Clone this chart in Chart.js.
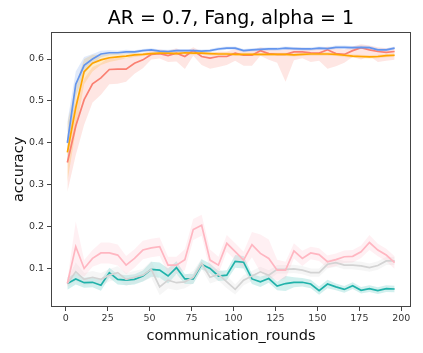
<!DOCTYPE html>
<html lang="en">
<head>
  <meta charset="UTF-8" />
  <title>AR = 0.7, Fang, alpha = 1</title>
  <script src="https://cdn.jsdelivr.net/npm/chart.js"></script>
  <style>
    html, body { margin: 0; padding: 0; background: #fff; }
  </style>
</head>
<body>
  <canvas id="accChart" width="423" height="353"></canvas>

  <script>
    const rounds = [1, 6, 11, 16, 21, 26, 31, 36, 41, 46, 51, 56, 61, 66, 71, 76, 81, 86, 91, 96,
                    101, 106, 111, 116, 121, 126, 131, 136, 141, 146, 151, 156, 161, 166, 171, 176, 181, 186, 191, 196];
    const xTicks = [0, 25, 50, 75, 100, 125, 150, 175, 200];
    const yTicks = [0.1, 0.2, 0.3, 0.4, 0.5, 0.6];

    // mean accuracy per curve
    const blueAcc = [0.400, 0.540, 0.585, 0.600, 0.612, 0.615, 0.615, 0.617, 0.617, 0.620,
                     0.622, 0.619, 0.618, 0.620, 0.620, 0.620, 0.619, 0.620, 0.624, 0.626,
                     0.626, 0.620, 0.622, 0.623, 0.624, 0.624, 0.626, 0.625, 0.624, 0.624,
                     0.626, 0.625, 0.628, 0.628, 0.627, 0.628, 0.627, 0.622, 0.622, 0.626];
    const orangeAcc = [0.377, 0.484, 0.570, 0.590, 0.598, 0.603, 0.605, 0.607, 0.610, 0.611,
                       0.613, 0.614, 0.614, 0.613, 0.615, 0.614, 0.614, 0.613, 0.612, 0.612,
                       0.611, 0.611, 0.611, 0.611, 0.611, 0.611, 0.611, 0.610, 0.611, 0.612,
                       0.612, 0.612, 0.611, 0.609, 0.607, 0.606, 0.605, 0.606, 0.608, 0.609];
    const salmonAcc = [0.353, 0.440, 0.503, 0.541, 0.555, 0.575, 0.576, 0.576, 0.590, 0.598,
                       0.611, 0.613, 0.608, 0.614, 0.606, 0.620, 0.606, 0.602, 0.606, 0.606,
                       0.614, 0.609, 0.609, 0.620, 0.613, 0.611, 0.611, 0.617, 0.617, 0.615,
                       0.614, 0.622, 0.613, 0.611, 0.620, 0.627, 0.622, 0.618, 0.616, 0.618];
    const pinkAcc = [0.064, 0.152, 0.100, 0.124, 0.137, 0.137, 0.132, 0.108, 0.124, 0.144,
                     0.149, 0.152, 0.108, 0.108, 0.121, 0.193, 0.203, 0.120, 0.108, 0.160,
                     0.140, 0.120, 0.157, 0.136, 0.124, 0.096, 0.096, 0.142, 0.124, 0.137,
                     0.133, 0.116, 0.121, 0.128, 0.129, 0.140, 0.162, 0.144, 0.132, 0.114];
    const grayAcc = [0.064, 0.092, 0.074, 0.079, 0.074, 0.084, 0.090, 0.074, 0.079, 0.084,
                     0.098, 0.056, 0.072, 0.066, 0.068, 0.079, 0.112, 0.079, 0.086, 0.068,
                     0.050, 0.072, 0.082, 0.092, 0.084, 0.098, 0.098, 0.099, 0.096, 0.090,
                     0.090, 0.110, 0.114, 0.108, 0.108, 0.106, 0.102, 0.107, 0.118, 0.118];
    const tealAcc = [0.064, 0.075, 0.066, 0.067, 0.060, 0.090, 0.074, 0.072, 0.074, 0.082,
                     0.098, 0.096, 0.082, 0.102, 0.075, 0.075, 0.110, 0.100, 0.082, 0.084,
                     0.117, 0.115, 0.075, 0.068, 0.076, 0.058, 0.064, 0.067, 0.067, 0.063,
                     0.047, 0.063, 0.056, 0.050, 0.059, 0.048, 0.052, 0.047, 0.052, 0.051];

    // half-width of the shaded band
    const blueSpread = [0.050, 0.030, 0.020, 0.012, 0.008, 0.006, 0.005, 0.005, 0.004, 0.004,
                        0.004, 0.004, 0.004, 0.004, 0.004, 0.004, 0.004, 0.004, 0.004, 0.004,
                        0.004, 0.004, 0.004, 0.004, 0.004, 0.004, 0.004, 0.004, 0.004, 0.004,
                        0.004, 0.004, 0.004, 0.004, 0.004, 0.004, 0.004, 0.004, 0.004, 0.004];
    const orangeSpread = [0.070, 0.055, 0.030, 0.020, 0.012, 0.010, 0.008, 0.006, 0.005, 0.004,
                          0.004, 0.004, 0.004, 0.004, 0.004, 0.004, 0.004, 0.004, 0.004, 0.004,
                          0.004, 0.004, 0.004, 0.004, 0.004, 0.004, 0.004, 0.004, 0.004, 0.004,
                          0.004, 0.004, 0.004, 0.004, 0.004, 0.004, 0.004, 0.004, 0.004, 0.004];
    const salmonSpreadHi = [0.050, 0.060, 0.050, 0.040, 0.035, 0.030, 0.028, 0.025, 0.020, 0.015,
                            0.010, 0.010, 0.012, 0.012, 0.010, 0.008, 0.012, 0.012, 0.012, 0.012,
                            0.010, 0.012, 0.012, 0.008, 0.010, 0.010, 0.012, 0.010, 0.010, 0.010,
                            0.010, 0.008, 0.012, 0.012, 0.010, 0.008, 0.010, 0.010, 0.010, 0.010];
    const salmonSpreadLo = [0.070, 0.070, 0.060, 0.045, 0.040, 0.035, 0.035, 0.030, 0.025, 0.020,
                            0.012, 0.012, 0.015, 0.020, 0.030, 0.012, 0.020, 0.025, 0.025, 0.020,
                            0.018, 0.025, 0.025, 0.012, 0.015, 0.020, 0.065, 0.020, 0.015, 0.022,
                            0.018, 0.045, 0.030, 0.020, 0.015, 0.028, 0.015, 0.025, 0.020, 0.020];
    const pinkSpread = [0.008, 0.060, 0.020, 0.020, 0.025, 0.025, 0.025, 0.022, 0.022, 0.022,
                        0.022, 0.022, 0.020, 0.020, 0.025, 0.025, 0.025, 0.025, 0.020, 0.020,
                        0.020, 0.020, 0.030, 0.045, 0.045, 0.025, 0.020, 0.018, 0.018, 0.015,
                        0.015, 0.015, 0.015, 0.015, 0.015, 0.015, 0.018, 0.015, 0.015, 0.015];
    const graySpread = [0.010, 0.022, 0.015, 0.015, 0.015, 0.015, 0.015, 0.015, 0.015, 0.015,
                        0.020, 0.020, 0.020, 0.018, 0.015, 0.015, 0.012, 0.015, 0.015, 0.015,
                        0.012, 0.012, 0.012, 0.012, 0.012, 0.010, 0.010, 0.010, 0.010, 0.010,
                        0.010, 0.010, 0.010, 0.010, 0.010, 0.010, 0.010, 0.010, 0.010, 0.010];
    const tealSpread = [0.015, 0.013, 0.012, 0.012, 0.013, 0.012, 0.012, 0.012, 0.012, 0.013,
                        0.018, 0.018, 0.018, 0.015, 0.012, 0.012, 0.012, 0.012, 0.012, 0.012,
                        0.015, 0.015, 0.012, 0.012, 0.010, 0.010, 0.018, 0.012, 0.010, 0.010,
                        0.010, 0.010, 0.008, 0.008, 0.008, 0.008, 0.008, 0.008, 0.008, 0.008];

    const series = [
      { name: "blue",   color: "100,149,237", mean: blueAcc,   hi: blueSpread,     lo: blueSpread },
      { name: "orange", color: "255,165,0",   mean: orangeAcc, hi: orangeSpread,   lo: orangeSpread },
      { name: "salmon", color: "250,128,114", mean: salmonAcc, hi: salmonSpreadHi, lo: salmonSpreadLo },
      { name: "pink",   color: "255,182,193", mean: pinkAcc,   hi: pinkSpread,     lo: pinkSpread },
      { name: "gray",   color: "211,211,211", mean: grayAcc,   hi: graySpread,     lo: graySpread },
      { name: "teal",   color: "32,178,170",  mean: tealAcc,   hi: tealSpread,     lo: tealSpread }
    ];

    const datasets = [];
    series.forEach(s => {
      datasets.push({
        label: s.name + " upper",
        data: rounds.map((r, i) => ({ x: r, y: s.mean[i] + s.hi[i] })),
        borderWidth: 0, pointRadius: 0,
        backgroundColor: `rgba(${s.color},0.2)`,
        fill: "+1", order: 2
      });
      datasets.push({
        label: s.name + " lower",
        data: rounds.map((r, i) => ({ x: r, y: s.mean[i] - s.lo[i] })),
        borderWidth: 0, pointRadius: 0, fill: false, order: 2
      });
    });
    series.forEach(s => {
      datasets.push({
        label: s.name,
        data: rounds.map((r, i) => ({ x: r, y: s.mean[i] })),
        borderColor: `rgb(${s.color})`,
        borderWidth: 1.7, pointRadius: 0, fill: false, order: 1
      });
    });

    const frame = {
      id: "frame",
      afterDraw(chart) {
        const { ctx, chartArea: a } = chart;
        ctx.save();
        ctx.strokeStyle = "#444";
        ctx.lineWidth = 1;
        ctx.strokeRect(Math.round(a.left) + 0.5, Math.round(a.top) + 0.5,
                       Math.round(a.right - a.left) - 1, Math.round(a.bottom - a.top) - 1);
        ctx.restore();
      }
    };

    const tickFont = { family: "DejaVu Sans", size: 9.5 };
    const labelFont = { family: "DejaVu Sans", size: 14.5 };

    new Chart(document.getElementById("accChart"), {
      type: "line",
      data: { datasets },
      options: {
        responsive: false,
        animation: false,
        layout: { padding: { top: 0, right: 12, bottom: 0, left: 0 } },
        plugins: {
          legend: { display: false },
          tooltip: { enabled: false },
          title: {
            display: true,
            fullSize: false,
            text: "AR = 0.7, Fang, alpha = 1",
            color: "#000",
            font: { family: "DejaVu Sans", size: 19, weight: "normal" },
            padding: { top: 8, bottom: 1 }
          }
        },
        scales: {
          x: {
            type: "linear",
            min: -8.75,
            max: 205.75,
            afterBuildTicks: scale => { scale.ticks = xTicks.map(v => ({ value: v })); },
            afterFit: scale => { scale.height = 46; },
            grid: { drawOnChartArea: false, drawTicks: true, tickLength: 4, color: "#444" },
            border: { display: false },
            ticks: { font: tickFont, color: "#333", padding: 2, maxRotation: 0, autoSkip: false },
            title: { display: true, text: "communication_rounds", color: "#111", font: labelFont, padding: { top: 0, bottom: 8 } }
          },
          y: {
            min: 0.008,
            max: 0.665,
            afterBuildTicks: scale => { scale.ticks = yTicks.map(v => ({ value: v })); },
            afterFit: scale => { scale.width = 51; },
            grid: { drawOnChartArea: false, drawTicks: true, tickLength: 4, color: "#444" },
            border: { display: false },
            ticks: { font: tickFont, color: "#333", padding: 3, callback: v => v.toFixed(1) },
            title: { display: true, text: "accuracy", color: "#111", font: labelFont, padding: { top: 11, bottom: 0 } }
          }
        }
      },
      plugins: [frame]
    });
  </script>
</body>
</html>
